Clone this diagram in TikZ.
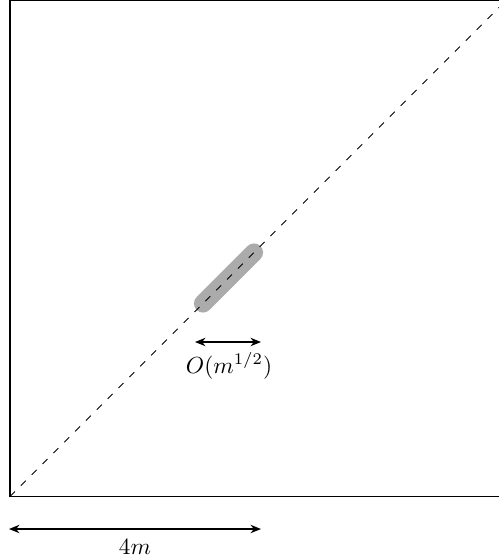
\documentclass[tikz,border=0pt]{standalone}
\usetikzlibrary{arrows.meta}
\begin{document}
\begin{tikzpicture}[x=0.43pt,y=-0.43pt,
  frame/.style={line width=0.85pt},
  diag/.style={line width=0.4pt,dash pattern=on 3pt off 3.6pt},
  blob/.style={line width=7.8pt,line cap=round,draw=black!33},
  dim/.style={line width=0.6pt,{Stealth[length=4.5pt,width=3.6pt]}-{Stealth[length=4.5pt,width=3.6pt]}},
  lbl/.style={inner sep=0pt,font=\normalsize}]
\useasboundingbox (0,0) rectangle (499,560);
\clip (0,0) rectangle (499,560);
\coordinate (bl) at (10,496.5);
\coordinate (tr) at (506.5,0);
\draw[frame] (10,0.5) rectangle (506,496.5);
\coordinate (s1) at (203,303.5);
\coordinate (s2) at (254,252.5);
\draw[blob] (s1) -- (s2);
\draw[diag] (bl) -- (tr);
\coordinate (a1) at (195,342);
\coordinate (a2) at (261,342);
\draw[dim] (a1) -- (a2);
\node[lbl] (o) at (229,366) {$O(m^{1/2})$};
\coordinate (b1) at (9,529);
\coordinate (b2) at (261,529);
\draw[dim] (b1) -- (b2);
\node[lbl] (m) at (135,547) {$4m$};
\end{tikzpicture}
\end{document}
